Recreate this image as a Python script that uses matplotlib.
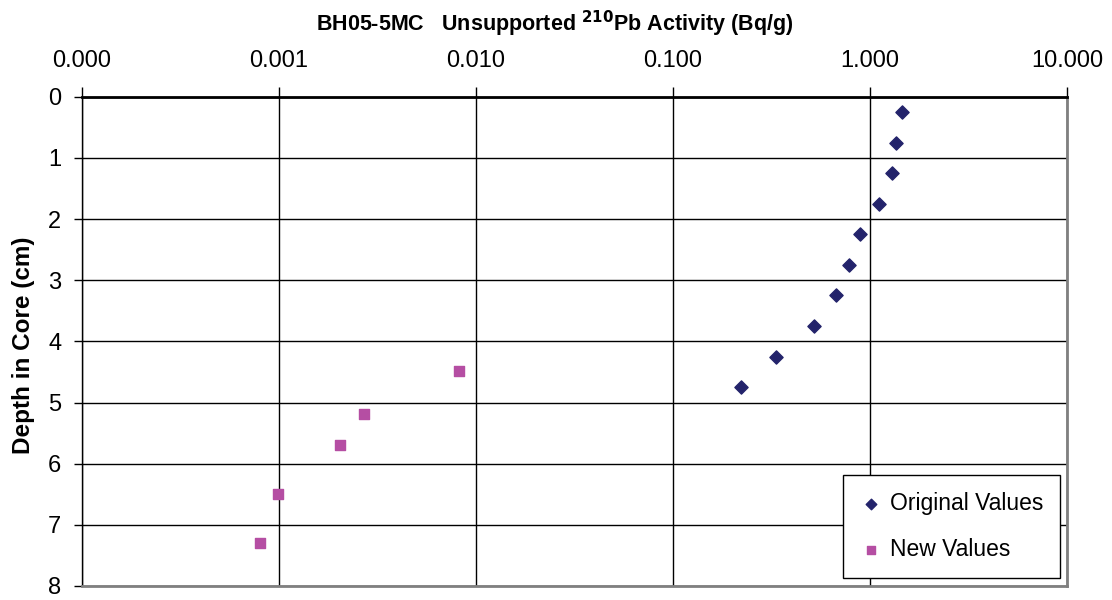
import matplotlib
matplotlib.use('Agg')
import matplotlib.pyplot as plt
from matplotlib.ticker import FixedLocator

plt.rcParams['font.family'] = ['Liberation Sans', 'DejaVu Sans']

# Original values (diamonds)
orig_activity = [1.45, 1.35, 1.30, 1.11, 0.89, 0.78, 0.67, 0.52, 0.335, 0.221]
orig_depth = [0.25, 0.75, 1.25, 1.75, 2.25, 2.75, 3.25, 3.75, 4.25, 4.75]

# New values (squares)
new_activity = [0.0082, 0.0027, 0.00204, 0.00099, 0.000805]
new_depth = [4.48, 5.18, 5.69, 6.50, 7.30]

x_ticks = [0.0001, 0.001, 0.01, 0.1, 1, 10]
x_labels = ['0.000', '0.001', '0.010', '0.100', '1.000', '10.000']
y_ticks = [0, 1, 2, 3, 4, 5, 6, 7, 8]

fig = plt.figure(figsize=(11.12, 6), dpi=100)
ax = fig.add_axes([82 / 1112, 1 - 586 / 600, (1067 - 82) / 1112, (586 - 96.7) / 600])

ax.set_xscale('log')
ax.set_xlim(0.0001, 10)
ax.set_ylim(8, 0)

ax.scatter(orig_activity, orig_depth, marker='D', s=45, color='#23236b',
           label='Original Values', zorder=3)
ax.scatter(new_activity, new_depth, marker='s', s=50, color='#b54ea3',
           label='New Values', zorder=3)

ax.xaxis.set_major_locator(FixedLocator(x_ticks))
ax.xaxis.set_minor_locator(FixedLocator([]))
ax.set_xticklabels(x_labels)
ax.set_yticks(y_ticks)
ax.xaxis.tick_top()
ax.tick_params(axis='x', labelsize=17, length=7, width=1, pad=11, color='black')
ax.tick_params(axis='y', labelsize=17, length=6, width=1, pad=9)

ax.grid(True, which='major', color='black', linewidth=1)
ax.set_axisbelow(True)

ax.spines['top'].set_linewidth(2)
ax.spines['left'].set_linewidth(1)
ax.spines['right'].set_color('#808080')
ax.spines['right'].set_linewidth(2)
ax.spines['bottom'].set_color('#808080')
ax.spines['bottom'].set_linewidth(2)

fig.text(555 / 1112, 1 - 24 / 600, 'BH05-5MC   Unsupported $\\mathbf{^{210}}$Pb Activity (Bq/g)',
         ha='center', va='center', fontsize=15.5, fontweight='bold')
ax.set_ylabel('Depth in Core (cm)', fontsize=17.5, fontweight='bold')
ax.yaxis.set_label_coords(-(82 - 35) / 985, (586 - 345) / 489.3)

leg = ax.legend(loc='lower right', bbox_to_anchor=(0.993, 0.016), borderaxespad=0,
                fontsize=16.5, frameon=True, fancybox=False, edgecolor='black',
                framealpha=1, borderpad=0.75, labelspacing=1.0, handletextpad=0.3,
                handlelength=1.0, scatterpoints=1, markerscale=0.8)
leg.get_frame().set_linewidth(1)

fig.savefig('out.png', dpi=100)
